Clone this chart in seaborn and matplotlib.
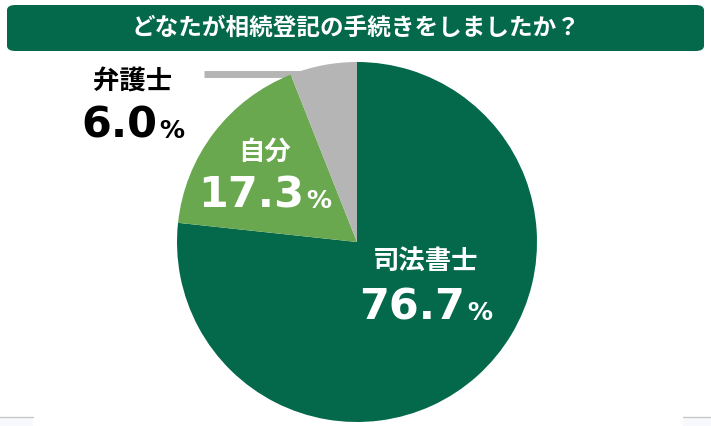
import numpy as np
import matplotlib
matplotlib.use("Agg")
import matplotlib.pyplot as plt
from matplotlib.patches import FancyBboxPatch
import seaborn as sns

title = "どなたが相続登記の手続きをしましたか？"
labels = ["司法書士", "自分", "弁護士"]
values = [76.7, 17.3, 6.0]
colors = ["#04684A", "#6AA84F", "#B5B5B5"]
text_colors = ["white", "white", "black"]

sns.set_theme(style="white")
plt.rcParams["font.family"] = ["Noto Sans CJK JP", "DejaVu Sans"]

W, H = 711, 427
fig = plt.figure(figsize=(W / 100, H / 100), dpi=100)
ax = fig.add_axes([0, 0, 1, 1])

cx, cy, r = 357, H - 243, 180

# leader line for the small slice (drawn under the pie)
edge = np.deg2rad(90 + 360 * values[2] / 100 - 3)
ax.plot([204, cx + r * 0.9 * np.cos(edge)], [H - 75, H - 75],
        color=colors[2], lw=5, solid_capstyle="butt", zorder=1)

ax.pie(values, colors=colors, startangle=90, counterclock=False,
       center=(cx, cy), radius=r, frame=True,
       wedgeprops=dict(linewidth=0, zorder=2))
ax.set_xlim(0, W)
ax.set_ylim(0, H)
ax.set_aspect("equal")
ax.axis("off")

# label centre x, label centre y, number baseline y (reference pixels)
pos = [(426, 262, 320), (265, 152, 208), (133, 82, 138)]
groups = []
for lab, val, tc, (x, yl, yb) in zip(labels, values, text_colors, pos):
    ax.text(x, H - yl, lab, ha="center", va="center", fontsize=19,
            fontweight="bold", color=tc, zorder=5)
    n = ax.text(x, H - yb, f"{val:.1f}", ha="left", va="baseline",
                fontsize=31, fontweight="bold", color=tc, zorder=5,
                family="DejaVu Sans")
    p = ax.text(x, H - yb, "%", ha="left", va="baseline",
                fontsize=18, fontweight="bold", color=tc, zorder=5,
                family="DejaVu Sans")
    groups.append((x, n, p))

# centre "number + %" under each label
fig.canvas.draw()
renderer = fig.canvas.get_renderer()
for x, n, p in groups:
    wn = n.get_window_extent(renderer).width
    wp = p.get_window_extent(renderer).width
    gap = 2
    x0 = x - (wn + gap + wp) / 2
    y = n.get_position()[1]
    n.set_position((x0, y))
    p.set_position((x0 + wn + gap, y))

# title banner
banner = FancyBboxPatch((7 / W, 1 - 52 / H), 697 / W, 46 / H,
                        boxstyle="round,pad=0,rounding_size=0.012",
                        transform=fig.transFigure, facecolor="#04684A",
                        edgecolor="none", zorder=10)
fig.patches.append(banner)
fig.text(356 / W, 1 - 28 / H, title, ha="center", va="center",
         fontsize=17, fontweight="bold", color="white", zorder=11)

# faint page edges at the bottom corners
for xs in ([0, 33], [683, 711]):
    ax.plot(xs, [H - 418, H - 418], color="#C8C8C8", lw=1, zorder=1)
    ax.fill_between(xs, 0, H - 418.5, color="#F7F9FC", lw=0, zorder=0)

fig.savefig("out.png", dpi=100)
